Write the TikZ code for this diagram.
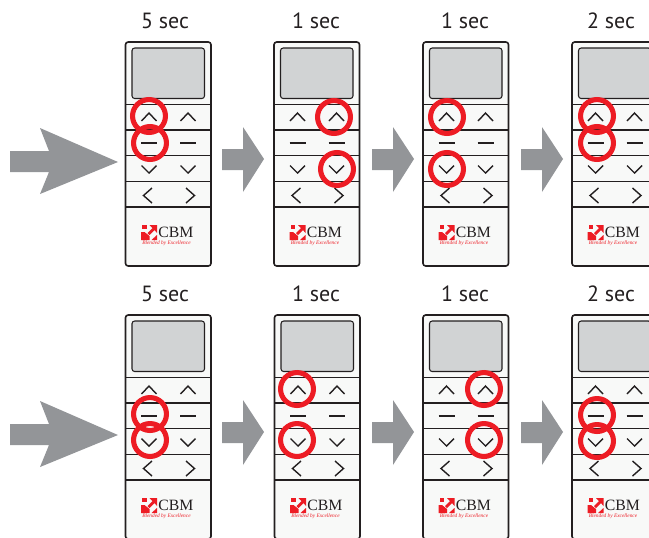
\documentclass[tikz,border=0pt]{standalone}
\usepackage{fontspec}
\setmainfont{PT Sans}
\newfontfamily\logofont{Liberation Serif}
\definecolor{ringred}{HTML}{ED1C24}
\definecolor{arrowgray}{HTML}{939598}
\definecolor{screengray}{HTML}{D1D3D4}
\definecolor{panelwhite}{HTML}{F8F9F8}
\definecolor{linedark}{HTML}{231F20}
\tikzset{
  ring/.style={draw=ringred,line width=3.8pt,circle,minimum size=24.7pt,inner sep=0pt},
  caption/.style={font=\fontsize{16.5}{18}\selectfont,text=linedark,inner sep=0pt},
  chev/.style={draw=linedark,line width=1.05pt},
}
% one remote, #1 = name, shifted to its top left corner
\newcommand{\remote}[3]{
\begin{scope}[shift={(#2,#3)}]
\draw[draw=linedark,line width=1.2pt,fill=panelwhite,rounded corners=2pt] (0,0) rectangle (85.5,224);
\draw[draw=linedark,line width=0.8pt,fill=screengray,rounded corners=2pt] (6.5,6) rectangle (79,56.5);
\draw[linedark,line width=0.7pt] (0,62) -- (85.5,62);
\draw[linedark,line width=1.1pt] (0,88) -- (85.5,88);
\draw[linedark,line width=1.1pt] (0,113.5) -- (85.5,113.5);
\draw[linedark,line width=1.1pt] (0,139.5) -- (85.5,139.5);
\draw[linedark,line width=0.9pt] (0,165) -- (85.5,165);
\draw[chev] (16,79) -- (23.5,71) -- (31,79);
\draw[chev] (55,79) -- (62.5,71) -- (70,79);
\draw[chev] (15.5,101) -- (31.5,101);
\draw[chev] (54.5,101) -- (70.5,101);
\draw[chev] (16,123.5) -- (23.5,131) -- (31,123.5);
\draw[chev] (55,123.5) -- (62.5,131) -- (70,123.5);
\draw[chev] (26.5,146) -- (18,153.5) -- (26.5,161);
\draw[chev] (60.5,146) -- (69,153.5) -- (60.5,161);
\fill[ringred] (15.5,190) -- (19,190) -- (24,194) -- (24,198) -- (15.5,198) -- cycle;
\fill[ringred] (16.5,183) -- (21,183) -- (21,187) -- (16.5,187) -- cycle;
\fill[ringred] (24,183) -- (31.5,183) -- (31.5,191) -- (29,188) -- (24,193) -- (22,191) -- (27,186) -- cycle;
\fill[ringred] (26,198) -- (31.5,193) -- (31.5,198) -- cycle;
\node[inner sep=0pt,anchor=west,text=linedark] (#1cbm) at (32.5,190.5) {\logofont\fontsize{11.8}{13}\selectfont CBM};
\node[inner sep=0pt,text=ringred] (#1tag) at (41,201.5) {\logofont\itshape\fontsize{4}{4}\selectfont Blended by Excellence};
\end{scope}
}
\newcommand{\bigarrow}[2]{
\fill[arrowgray,shift={(#1,#2)}] (0,-11) -- (39,-11) -- (30,-34) -- (108,0) -- (30,32) -- (39,10) -- (0,10) -- cycle;
}
\newcommand{\smallarrow}[2]{
\fill[arrowgray,shift={(#1,#2)}] (0,-10) -- (21,-10) -- (21,-32) -- (42,0) -- (21,33) -- (21,11) -- (0,11) -- cycle;
}
\begin{document}
\begin{tikzpicture}[x=0.75pt,y=-0.75pt]
\useasboundingbox (0,0) rectangle (649,537);
\clip (0,0) rectangle (649,537);

\node[caption] (topa) at (165,21) {5 sec};
\node[caption] (topb) at (316,21) {1 sec};
\node[caption] (topc) at (465,21) {1 sec};
\node[caption] (topd) at (611,21) {2 sec};
\node[caption] (bota) at (165,294) {5 sec};
\node[caption] (botb) at (316,294) {1 sec};
\node[caption] (botc) at (465,294) {1 sec};
\node[caption] (botd) at (611,294) {2 sec};

\remote{ta}{125.5}{42}
\remote{tb}{274}{42}
\remote{tc}{423}{42}
\remote{td}{572}{42}
\remote{ba}{125.5}{315}
\remote{bb}{274.5}{315}
\remote{bc}{423}{315}
\remote{bd}{572}{315}

\bigarrow{10}{162}
\smallarrow{222}{159}
\smallarrow{372}{159}
\smallarrow{521}{159}
\bigarrow{10}{435}
\smallarrow{222}{432}
\smallarrow{372}{432}
\smallarrow{521}{432}

\node[ring] (ra) at (149,116) {};
\node[ring] (rb) at (150,143) {};
\node[ring] (rc) at (334,117) {};
\node[ring] (rd) at (337,169) {};
\node[ring] (re) at (447,117) {};
\node[ring] (rf) at (447,169) {};
\node[ring] (rg) at (597,116) {};
\node[ring] (rh) at (597,143) {};
\node[ring] (ri) at (150,414) {};
\node[ring] (rj) at (150,440) {};
\node[ring] (rk) at (297,389) {};
\node[ring] (rl) at (297,440) {};
\node[ring] (rm) at (484,389) {};
\node[ring] (rn) at (484,440) {};
\node[ring] (ro) at (597,415) {};
\node[ring] (rp) at (597,441) {};
\end{tikzpicture}
\end{document}
